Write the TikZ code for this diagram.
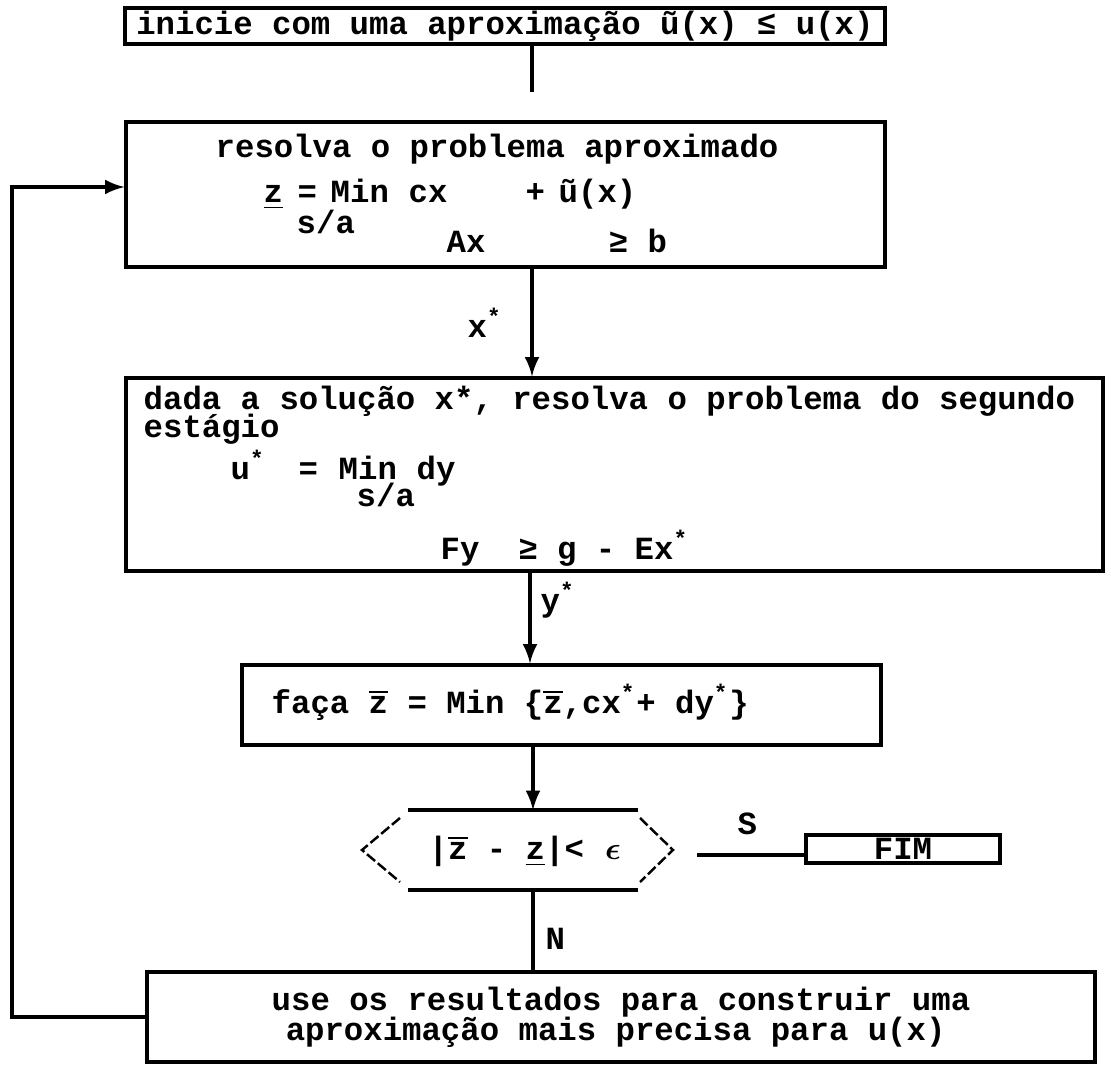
\documentclass[tikz,border=0pt]{standalone}
\usepackage{fontspec}
\setmonofont{Liberation Mono}
\usepackage{amsmath, amssymb}
\usepackage{tikz}
\usetikzlibrary{shapes, arrows, positioning}

\newcommand{\maq}{\fontsize{9.2pt}{11pt}\ttfamily\bfseries}
\newcommand{\zinf}{\underline{z}}
\newcommand{\zsup}{\ensuremath{\overline{\mbox{z}}}}
\newcommand{\maior}{≥}
\newcommand{\menor}{≤}
\newcommand{\epsc}{\makebox[0.6em]{$\boldsymbol{\epsilon}$}}

\begin{document}
\begin{tikzpicture}[scale=1.0,
    caixa/.style={draw, line width=0.9pt, inner sep=0pt, font=\maq},
    texto/.style={inner sep=0pt, anchor=base west, font=\maq},
    fio/.style={line width=0.9pt},
    seta/.style={line width=0.9pt, -latex}]
        % Moldura
        \fill[white] (0,0) rectangle (11.11,-10.66);
        \useasboundingbox (0,0) rectangle (11.11,-10.66);

        % Caixas
        \node[caixa, minimum width=7.60cm, minimum height=0.36cm] (inicio) at (5.05,-0.26)
            {inicie com uma aproxima\c{c}\~ao \~u(x) \menor{} u(x)};
        \node[caixa, minimum width=7.59cm, minimum height=1.45cm] (mestre) at (5.055,-1.945) {};
        \node[caixa, minimum width=9.77cm, minimum height=1.93cm] (sub) at (6.145,-4.745) {};
        \node[caixa, minimum width=6.39cm, minimum height=0.80cm] (atualiza) at (5.615,-7.05) {};
        \node[caixa, minimum width=1.94cm, minimum height=0.28cm] (fim) at (9.03,-8.49) {FIM};
        \node[caixa, minimum width=9.48cm, minimum height=0.90cm, align=left] (refina) at (6.21,-10.17)
            {use os resultados para construir uma\\[-2.5pt]\hspace{4pt}aproxima\c{c}\~ao mais precisa para u(x)};

        % Problema mestre
        \node[texto] (m1) at (2.15,-1.58) {resolva o problema aproximado};
        \node[texto] (m2) at (2.63,-2.03) {\zinf};
        \node[texto] (m3) at (2.97,-2.03) {=};
        \node[texto] (m4) at (3.30,-2.03) {Min};
        \node[texto] (m5) at (4.08,-2.03) {cx};
        \node[texto] (m6) at (5.25,-2.03) {+};
        \node[texto] (m7) at (5.58,-2.03) {\~u(x)};
        \node[texto] (m8) at (2.96,-2.34) {s/a};
        \node[texto] (m9) at (4.46,-2.53) {Ax};
        \node[texto] (m10) at (6.08,-2.53) {\maior{} b};

        % Segundo est\'agio
        \node[texto] (s1) at (1.43,-4.10) {dada a solu\c{c}\~ao x*, resolva o problema do segundo};
        \node[texto] (s2) at (1.43,-4.38) {est\'agio};
        \node[texto] (s3) at (2.30,-4.80) {u\textsuperscript{*}};
        \node[texto] (s4) at (2.98,-4.80) {=};
        \node[texto] (s5) at (3.38,-4.80) {Min};
        \node[texto] (s6) at (4.16,-4.80) {dy};
        \node[texto] (s7) at (3.56,-5.07) {s/a};
        \node[texto] (s8) at (4.40,-5.60) {Fy\ \ \maior{} g - Ex\textsuperscript{*}};

        % Atualiza\c{c}\~ao e teste
        \node[texto] (a1) at (2.71,-7.14) {fa\c{c}a \zsup{} = Min \{\zsup,cx\textsuperscript{*}+ dy\textsuperscript{*}\}};
        \node[texto] (teste) at (4.28,-8.60) {|\zsup{} - \zinf|< \epsc};

        % Hex\'agono do teste
        \draw[fio] (4.08,-8.10) -- (6.38,-8.10);
        \draw[fio] (4.08,-8.90) -- (6.38,-8.90);
        \draw[line width=0.7pt, dash pattern=on 3pt off 1pt] (4.00,-8.18) -- (3.62,-8.50) -- (4.00,-8.82);
        \draw[line width=0.7pt, dash pattern=on 3pt off 1pt] (6.40,-8.18) -- (6.73,-8.50) -- (6.40,-8.82);
        \coordinate (hexN) at (5.33,-8.10);
        \coordinate (hexS) at (5.33,-8.90);
        \coordinate (saidaS) at (6.97,-8.55);

        % Conectores
        \coordinate (eixo) at (5.32,-0.92);
        \coordinate (eixo2) at (5.30,0);
        \coordinate (volta) at (0.12,-1.87);
        \draw[fio] (inicio.south -| eixo) -- (eixo);
        \draw[seta] (mestre.south -| eixo) -- (sub.north -| eixo);
        \draw[seta] (sub.south -| eixo2) -- (atualiza.north -| eixo2);
        \draw[seta] (atualiza.south -| hexN) -- (hexN);
        \draw[fio] (saidaS) -- (saidaS -| fim.west);
        \draw[fio] (hexS) -- (refina.north -| hexS);
        \draw[seta] (refina.west) -- (refina.west -| volta) -- (volta) -- (volta -| mestre.west);

        % R\'otulos
        \node[texto] (lx) at (4.67,-3.38) {x\textsuperscript{*}};
        \node[texto] (ly) at (5.40,-6.12) {y\textsuperscript{*}};
        \node[texto] (lS) at (7.37,-8.35) {S};
        \node[texto] (lN) at (5.45,-9.50) {N};
\end{tikzpicture}
\end{document}
